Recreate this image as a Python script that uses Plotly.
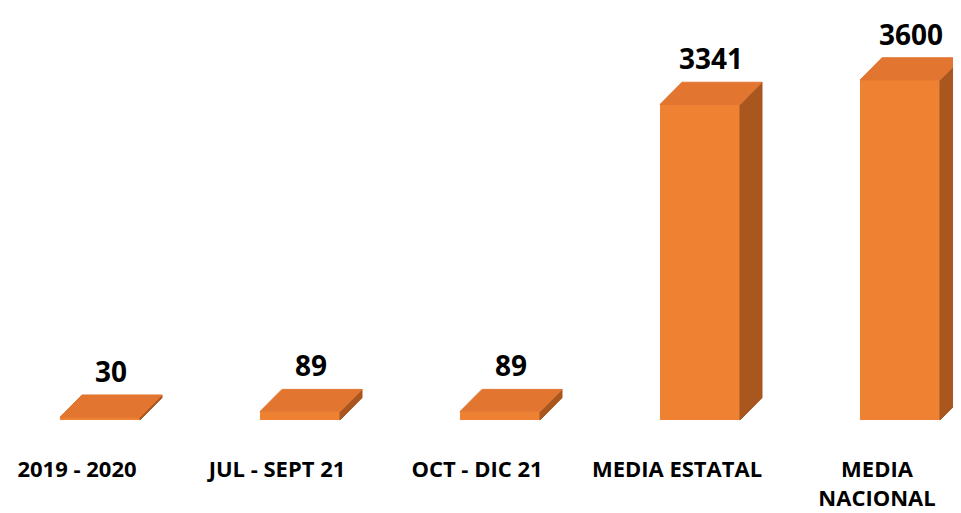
import plotly.graph_objects as go

categories = ["2019 - 2020", "JUL - SEPT 21", "OCT - DIC 21", "MEDIA ESTATAL", "MEDIA<br>NACIONAL"]
values = [30, 89, 89, 3341, 3600]

idx = list(range(len(values)))
FRONT_OFF = -0.085
FRONT_W = 0.40
DX = 0.11      # depth in x units
DY = 235       # depth in y units

fig = go.Figure()

side_x, side_y, top_x, top_y = [], [], [], []
for i, v in zip(idx, values):
    xl = i + FRONT_OFF
    xr = xl + FRONT_W
    side_x += [xr, xr + DX, xr + DX, xr, xr, None]
    side_y += [0, DY, v + DY, v, 0, None]
    top_x += [xl, xl + DX, xr + DX, xr, xl, None]
    top_y += [v, v + DY, v + DY, v, v, None]

fig.add_trace(go.Scatter(x=side_x, y=side_y, fill="toself", mode="lines",
                         line=dict(color="#A9561F", width=1), fillcolor="#A9561F",
                         hoverinfo="skip", showlegend=False))
fig.add_trace(go.Scatter(x=top_x, y=top_y, fill="toself", mode="lines",
                         line=dict(color="#E27530", width=1), fillcolor="#E27530",
                         hoverinfo="skip", showlegend=False))
fig.add_trace(go.Bar(x=idx, y=values, width=FRONT_W, offset=FRONT_OFF,
                     marker=dict(color="#EE8232", line=dict(width=0)),
                     showlegend=False))

for i, v in zip(idx, values):
    fig.add_annotation(x=i + FRONT_OFF + FRONT_W / 2 + DX / 2, y=v + DY,
                       text=f"<b>{v}</b>", showarrow=False, yanchor="bottom",
                       yshift=3, font=dict(family="Open Sans", size=28, color="#000000"))

fig.update_layout(
    width=953, height=505,
    margin=dict(l=0, r=0, t=0, b=93),
    paper_bgcolor="white", plot_bgcolor="white",
    xaxis=dict(range=[-0.345, 4.42], tickvals=idx,
               ticktext=[f"<b>{c}</b>" for c in categories],
               showgrid=False, zeroline=False, showline=False,
               ticks="outside", ticklen=30, tickcolor="rgba(0,0,0,0)",
               tickfont=dict(family="Open Sans", size=22, color="#000000")),
    yaxis=dict(range=[0, 4362], visible=False, showgrid=False, zeroline=False),
    bargap=0,
)

fig.write_html("out.html")
